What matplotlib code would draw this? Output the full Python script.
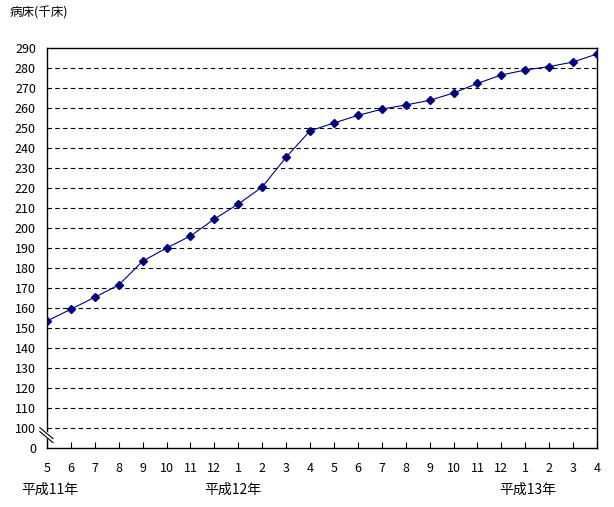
import matplotlib
matplotlib.use("Agg")
import matplotlib.pyplot as plt

plt.rcParams['font.family'] = ['Noto Sans CJK JP', 'DejaVu Sans']

# 平成11年5月 ～ 平成13年4月
months = ['5', '6', '7', '8', '9', '10', '11', '12', '1', '2', '3', '4',
          '5', '6', '7', '8', '9', '10', '11', '12', '1', '2', '3', '4']
beds = [153.5, 159.4, 165.4, 171.5, 183.4, 190.0, 196.0, 204.5, 212.0, 220.5,
        235.4, 248.6, 252.5, 256.3, 259.4, 261.5, 263.8, 267.5, 272.3, 276.5,
        279.0, 280.7, 283.0, 287.0]
year_labels = ['平成11年', '平成12年', '平成13年']
year_pos = [0.12, 7.75, 20.1]
yticks = list(range(100, 300, 10))

fig = plt.figure(figsize=(6.14, 5.07), dpi=100)
ax = fig.add_axes([47/614, 59/507, 550/614, 400/507])

x = list(range(len(months)))
ax.plot(x, beds, color='#000080', lw=0.8, marker='D', ms=4.5,
        markerfacecolor='#000080', markeredgecolor='#000080', zorder=3)

# broken axis: bottom of axis (90) stands for 0
ax.set_ylim(90, 290)
ax.set_xlim(0, 23)
ax.set_yticks([90] + yticks)
ax.set_yticklabels(['0'] + [str(v) for v in yticks])
for v in yticks[:-1]:
    ax.axhline(v, color='black', lw=0.8, ls=(0, (4, 3)), zorder=1)

ax.set_xticks(x)
ax.set_xticklabels(months)
ax.tick_params(axis='x', direction='in', length=4, pad=10, labelsize=9)
ax.tick_params(axis='y', length=0, pad=8, labelsize=9)
for s in ax.spines.values():
    s.set_linewidth(1.0)

# break marks on the left spine
kw = dict(transform=ax.transData, clip_on=False, zorder=5)
ax.fill([-0.3, 0.25, 0.25, -0.3], [98.2, 92.7, 95.2, 100.7], color='white', **kw)
ax.plot([-0.3, 0.25], [98.2, 92.7], color='black', lw=0.8, **kw)
ax.plot([-0.3, 0.25], [100.2, 94.7], color='black', lw=0.8, **kw)

for lab, p in zip(year_labels, year_pos):
    ax.text(p, -0.105, lab, transform=ax.get_xaxis_transform(),
            ha='center', va='center', fontsize=10)

fig.text(10/614, 1 - 13/507, '病床(千床)', ha='left', va='center', fontsize=9)

fig.savefig('out.png', dpi=100)
